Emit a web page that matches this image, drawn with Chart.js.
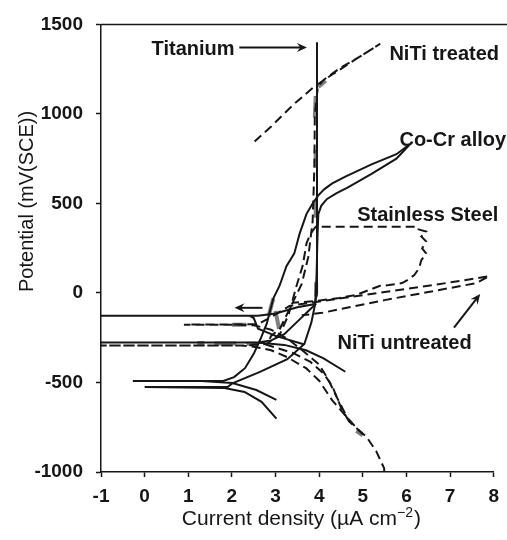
<!DOCTYPE html>
<html>
<head>
<meta charset="utf-8">
<script src="https://cdn.jsdelivr.net/npm/chart.js@4.4.1/dist/chart.umd.min.js"></script>
<style>
  html, body { margin: 0; padding: 0; background: #fff; }
  #wrap { width: 507px; height: 540px; position: relative; }
</style>
</head>
<body>
<div id="wrap"><canvas id="c"></canvas></div>
<script>
// Potentiodynamic polarisation curves: potential (mV vs SCE) against log current density.

// Axis ranges and tick steps
const xRange = [-1, 8];
const yRange = [-1000, 1500];
const xStep = 1;
const yStep = 500;

// Titanium scans (solid)
const titaniumScan1 = [[3.66,-288],[3.0,-240],[2.6,-200],[2.5,-140],[2.4,-127],[-1,-127],[2.6,-127],[3.0,-115],[3.5,-80],[3.9,-62],[3.95,0],[3.95,1400]];
const titaniumScan2 = [[4.6,-440],[4.1,-365],[3.7,-320],[3.2,-290],[2.7,-280],[2.4,-277],[-1,-277],[2.6,-277],[2.9,-265],[3.2,-230],[3.5,-160],[3.8,-90],[3.93,-60]];

// Co-Cr alloy scans (solid)
const coCrScan1 = [[3.02,-597],[2.56,-542],[2.01,-503],[1.3,-492],[-0.27,-492],[1.8,-492],[2.05,-470],[2.3,-420],[2.5,-340],[2.65,-260],[2.8,-170],[2.95,-30],[3.09,39],[3.25,150],[3.43,221],[3.55,330],[3.71,442],[3.85,500],[3.98,545],[4.12,580],[4.3,612],[4.6,650],[5.2,718],[5.77,775],[6.06,828]];
const coCrScan2 = [[3.02,-702],[2.68,-608],[2.29,-553],[1.83,-531],[0,-525],[1.9,-525],[2.01,-505],[2.63,-442],[3.27,-370],[3.66,-285],[3.82,-166],[3.91,-60],[3.94,100],[3.96,300],[3.98,440],[4.05,488],[4.18,525],[4.4,558],[4.65,588],[5.2,665],[5.77,750],[6.06,825]];

// Stainless steel scan (dashed), with the pitting loop
const stainlessSteel = [[5.49,-1000],[5.49,-980],[5.31,-885],[5.08,-802],[4.87,-758],[4.62,-690],[4.3,-600],[4.0,-490],[3.7,-420],[3.27,-359],[2.9,-320],[2.5,-300],[2.2,-293],[-1,-293],[2.3,-293],[2.8,-285],[3.1,-230],[3.3,-120],[3.48,39],[3.62,150],[3.71,277],[3.8,330],[3.92,370],[6.22,370],[6.22,359],[6.45,343],[6.34,315],[6.45,288],[6.36,249],[6.45,221],[6.34,183],[6.29,138],[6.18,100],[6.02,72],[5.9,55],[5.6,44],[5.38,39],[5.2,22],[4.85,-11],[4.46,-28],[3.94,-44],[3.4,-55]];

// NiTi scans (dashed)
const nitiUntreated = [[5.0,-790],[4.87,-758],[4.69,-719],[4.42,-590],[4.2,-480],[4.0,-400],[3.66,-330],[3.3,-260],[2.9,-205],[2.5,-180],[2.0,-177],[0.9,-177],[2.6,-175],[3.0,-120],[3.32,-72],[4.5,-30],[5.5,5],[6.5,40],[7.3,70],[7.9,94],[7.6,55],[6.5,5],[5.5,-40],[4.07,-111],[3.6,-125]];
const nitiTreated = [[4.69,-719],[4.5,-640],[4.3,-520],[4.1,-450],[3.8,-385],[3.4,-335],[3.0,-305],[2.8,-290],[2.9,-240],[3.1,-200],[3.3,-100],[3.5,0],[3.6,50],[3.75,200],[3.85,400],[3.89,700],[3.9,1000],[3.97,1150],[4.1,1190],[4.5,1260],[5.0,1330],[5.4,1392],[4.9,1315],[4.3,1220],[3.9,1155],[3.4,1050],[2.9,930],[2.52,846]];

// Grey overprinted stretches along the traces
const greyMarks = [
  [[1.21,-280],[1.37,-280]],
  [[1.6,-282],[2.1,-282]],
  [[2.33,-284],[2.56,-284]],
  [[2.0,-177],[2.33,-177]],
  [[2.84,-130],[2.95,-30]],
  [[3.0,-100],[3.08,-200]],
  [[3.9,980],[3.92,1100]],
  [[3.92,700],[3.92,800]],
  [[3.92,420],[3.92,520]],
  [[3.93,-20],[3.93,60]],
  [[3.98,1150],[4.15,1185]],
  [[4.85,-770],[5.0,-795]]
];

// Curve labels and arrows (data coordinates)
const curveLabels = [
  { text: 'Titanium',        x: 0.16, y: 1327 },
  { text: 'NiTi treated',    x: 5.61, y: 1300 },
  { text: 'Co-Cr alloy',     x: 5.84, y: 819 },
  { text: 'Stainless Steel', x: 4.87, y: 404 },
  { text: 'NiTi untreated',  x: 4.42, y: -315 }
];
const arrows = [
  { from: [2.17, 1371], to: [3.72, 1371] },
  { from: [7.09, -194], to: [7.69, -6] },
  { from: [2.7, -83],   to: [2.06, -83] }
];

const FONT = '"Liberation Sans", Arial, Helvetica, sans-serif';
const INK = '#161616';

const toPoints = arr => arr.map(p => ({ x: p[0], y: p[1] }));

function curve(pairs, dashed) {
  return {
    data: toPoints(pairs),
    showLine: true,
    borderColor: INK,
    borderWidth: 2,
    borderDash: dashed ? [9, 5] : [],
    pointRadius: 0,
    tension: 0,
    fill: false
  };
}

const datasets = [
  curve(titaniumScan1, false),
  curve(titaniumScan2, false),
  curve(coCrScan1, false),
  curve(coCrScan2, false),
  curve(stainlessSteel, true),
  curve(nitiUntreated, true),
  curve(nitiTreated, true)
];
greyMarks.forEach(seg => datasets.push({
  data: toPoints(seg), showLine: true, borderColor: 'rgba(105,105,105,0.85)',
  borderWidth: 4, pointRadius: 0, tension: 0, fill: false
}));

function drawArrow(ctx, x0, y0, x1, y1) {
  const a = Math.atan2(y1 - y0, x1 - x0);
  const h = 11;
  ctx.beginPath();
  ctx.moveTo(x0, y0);
  ctx.lineTo(x1 - Math.cos(a) * 4, y1 - Math.sin(a) * 4);
  ctx.stroke();
  ctx.beginPath();
  ctx.moveTo(x1, y1);
  ctx.lineTo(x1 - h * Math.cos(a - 0.42), y1 - h * Math.sin(a - 0.42));
  ctx.lineTo(x1 - h * 0.6 * Math.cos(a), y1 - h * 0.6 * Math.sin(a));
  ctx.lineTo(x1 - h * Math.cos(a + 0.42), y1 - h * Math.sin(a + 0.42));
  ctx.closePath();
  ctx.fill();
}

const decorations = {
  id: 'decorations',
  afterDatasetsDraw(chart) {
    const { ctx, chartArea, scales: { x, y } } = chart;
    ctx.save();
    // top frame line running to the edge
    ctx.strokeStyle = INK;
    ctx.lineWidth = 1.5;
    ctx.beginPath();
    ctx.moveTo(chartArea.left, chartArea.top);
    ctx.lineTo(chart.width, chartArea.top);
    ctx.stroke();

    // curve labels
    ctx.fillStyle = INK;
    ctx.font = 'bold 20px ' + FONT;
    ctx.textAlign = 'left';
    ctx.textBaseline = 'alphabetic';
    curveLabels.forEach(l => ctx.fillText(l.text, x.getPixelForValue(l.x), y.getPixelForValue(l.y)));

    // arrows
    ctx.lineWidth = 2;
    ctx.strokeStyle = INK;
    arrows.forEach(a => drawArrow(ctx,
      x.getPixelForValue(a.from[0]), y.getPixelForValue(a.from[1]),
      x.getPixelForValue(a.to[0]), y.getPixelForValue(a.to[1])));

    // x-axis title with superscript
    const main = 'Current density (\u00b5A cm';
    const sup = '\u22122';
    const tail = ')';
    ctx.font = '21px ' + FONT;
    const wMain = ctx.measureText(main).width;
    const wTail = ctx.measureText(tail).width;
    ctx.font = '14px ' + FONT;
    const wSup = ctx.measureText(sup).width;
    const total = wMain + wSup + wTail + 1;
    let tx = (chartArea.left + chartArea.right) / 2 + 4 - total / 2;
    const ty = chart.height - 15;
    ctx.font = '21px ' + FONT;
    ctx.fillText(main, tx, ty);
    tx += wMain;
    ctx.font = '14px ' + FONT;
    ctx.fillText(sup, tx, ty - 8);
    tx += wSup + 1;
    ctx.font = '21px ' + FONT;
    ctx.fillText(tail, tx, ty);

    // y-axis title
    ctx.save();
    ctx.translate(33, chartArea.top + 177);
    ctx.rotate(-Math.PI / 2);
    ctx.textAlign = 'center';
    ctx.font = '20px ' + FONT;
    ctx.fillText('Potential (mV(SCE))', 0, 0);
    ctx.restore();

    ctx.restore();
  }
};

const plainTick = v => String(v);

new Chart(document.getElementById('c'), {
  type: 'scatter',
  data: { datasets },
  options: {
    responsive: true,
    maintainAspectRatio: false,
    animation: false,
    events: [],
    layout: { padding: { top: 20, right: 12, left: 0, bottom: 0 } },
    plugins: { legend: { display: false }, tooltip: { enabled: false } },
    scales: {
      x: {
        type: 'linear',
        min: xRange[0], max: xRange[1],
        afterFit: s => { s.height = 68; },
        ticks: { stepSize: xStep, color: INK, padding: 8, callback: plainTick, font: { family: FONT, size: 19, weight: 'bold' } },
        grid: { drawOnChartArea: false, drawTicks: true, tickLength: 5, color: INK, tickWidth: 1.5 },
        border: { display: true, color: INK, width: 1.5 }
      },
      y: {
        type: 'linear',
        min: yRange[0], max: yRange[1],
        afterFit: s => { s.width = 101; },
        ticks: { stepSize: yStep, color: INK, padding: 13, callback: plainTick, font: { family: FONT, size: 19, weight: 'bold' } },
        grid: { drawOnChartArea: false, drawTicks: true, tickLength: 5, color: INK, tickWidth: 1.5 },
        border: { display: true, color: INK, width: 1.5 }
      }
    }
  },
  plugins: [decorations]
});
</script>
</body>
</html>
